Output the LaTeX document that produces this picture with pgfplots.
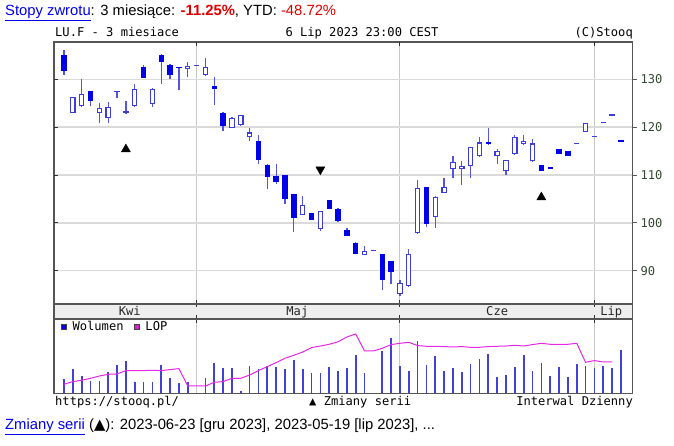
\documentclass[border=0pt]{standalone}
\usepackage{pgfplots}
\usepackage{pgfplotstable}
\pgfplotsset{compat=1.18}
\usepackage{fontspec}
\setmainfont{Liberation Sans}
\newfontfamily\monof{DejaVu Sans Mono}
\newfontfamily\djv{DejaVu Sans}
\definecolor{linkblue}{RGB}{0,0,238}
\definecolor{redtxt}{RGB}{222,0,0}
\definecolor{framec}{RGB}{85,85,85}
\definecolor{gridc}{RGB}{218,218,218}
\definecolor{vgridc}{RGB}{200,200,200}
\definecolor{bandc}{RGB}{238,238,238}
\definecolor{wickc}{RGB}{85,85,225}
\definecolor{hollowc}{RGB}{60,60,220}
\definecolor{fillc}{RGB}{0,0,235}
\definecolor{volc}{RGB}{65,65,215}
\definecolor{lopc}{RGB}{230,40,230}
\definecolor{tickc}{RGB}{50,72,50}
\newcommand{\mf}{\monof\fontsize{12.1}{14}\selectfont}
\newcommand{\txf}{\fontsize{14.8}{17}\selectfont}

\pgfplotstableread{
x o h l c f
0 135.1 136.1 131.0 131.7 1
1 123.0 126.4 122.9 126.3 0
2 124.4 130.1 124.3 126.9 0
3 127.5 127.6 124.4 125.4 1
4 122.9 125.1 120.9 124.0 0
5 121.9 125.2 120.9 124.3 0
6 127.3 127.6 126.0 127.5 0
7 122.9 125.4 122.8 123.4 0
8 124.4 129.0 124.3 127.9 0
9 132.6 132.9 130.2 130.3 1
10 124.8 128.1 124.2 128.0 0
11 135.1 135.2 129.0 133.6 1
12 133.0 133.1 130.1 130.8 1
13 132.6 132.6 127.8 132.3 1
14 132.1 133.6 130.4 132.8 0
15 132.7 132.95 132.7 132.95 0
16 130.8 134.4 130.7 132.6 0
17 128.5 130.5 124.7 127.9 1
18 123.0 123.1 119.1 120.3 1
19 119.9 122.1 119.8 122.0 0
20 120.4 122.6 120.3 122.5 0
21 118.0 119.8 117.1 118.9 0
22 117.1 118.3 112.4 113.1 1
23 112.2 112.3 107.0 109.5 1
24 109.8 112.4 108.1 108.6 1
25 110.0 110.1 103.9 105.0 1
26 106.0 106.1 98.0 101.0 1
27 101.7 105.6 101.6 103.8 0
28 102.0 102.1 100.5 100.6 1
29 98.7 102.5 98.4 102.4 0
30 104.7 104.8 102.9 103.0 1
31 103.0 103.1 100.1 100.4 1
32 98.5 99.0 97.2 97.3 1
33 95.9 96.0 93.5 93.6 1
34 93.3 95.2 93.2 94.2 0
35 94.1 94.35 94.1 94.35 0
36 93.4 93.5 86.0 88.1 1
37 92.0 92.1 87.3 89.8 1
38 85.1 88.1 84.8 87.4 0
39 86.8 94.5 86.7 93.6 0
40 97.8 109.0 97.7 107.3 0
41 107.5 107.6 99.2 99.85 1
42 101.25 105.6 99.0 105.5 0
43 106.3 109.4 106.2 107.5 0
44 111.3 114.0 109.4 112.7 0
45 111.3 112.9 108.0 111.9 0
46 111.8 115.9 109.4 115.8 0
47 113.9 118.0 113.8 116.8 0
48 116.9 119.8 116.3 116.4 1
49 113.9 115.4 112.4 115.0 0
50 110.9 113.2 110.0 113.1 0
51 114.3 118.4 114.2 117.9 0
52 116.4 118.3 116.3 117.1 0
53 112.9 117.5 112.8 116.6 0
54 112.0 112.0 110.9 110.9 1
55 111.65 111.65 111.35 111.35 1
56 115.4 115.4 114.3 114.3 1
57 115.0 115.0 114.05 114.05 1
58 116.4 116.65 116.4 116.65 0
59 119.0 120.9 119.0 120.9 0
60 117.9 118.15 117.9 118.15 0
61 120.8 121.05 120.8 121.05 0
62 122.4 122.65 122.4 122.65 0
63 117.4 117.4 116.85 116.85 1
}\candles

\pgfplotstableread{
x v
0 14
1 24
2 17.3
3 12.3
4 12.3
5 21.7
6 28.3
7 32
8 11
9 11
10 11
11 28.3
12 15.3
13 10
14 11
16 15.3
17 30.7
18 25.3
19 25.3
20 2.7
21 27.3
22 24
23 27.3
24 26.7
25 24
26 33
27 24
28 20
29 20
30 26.7
31 22.3
32 25.3
33 38.3
34 20
36 42.7
37 55
38 27.3
39 22.7
40 52.7
41 28.3
42 37.3
43 22
44 25
45 21
46 29.7
47 34
48 39.3
49 16.3
50 18.3
51 26.3
52 38.3
53 22
54 30.7
55 17.3
56 26.3
57 16.3
58 29.7
59 27.3
60 25
61 27.3
62 25
63 43
}\vol

\pgfplotstableread{
x p
0 9
1 11.7
2 13
3 15
4 17.3
5 19
6 19.3
7 22.7
8 22.7
9 22.7
10 23
11 22.7
12 23.7
13 24.7
14 7.3
15 7.3
16 7.3
17 11
18 11.7
19 15
20 15
21 18.3
22 22.7
23 26.7
24 30.7
25 35
26 38
27 41.3
28 45.7
29 47.3
30 49
31 51.5
32 56.3
33 59.3
34 42.3
35 42.3
36 45
37 48.7
38 50
39 51
40 47.7
41 47
42 47
43 46.7
44 46.3
45 46.7
46 46
47 46
48 46.7
49 47
50 47.3
51 48
52 47.3
53 48.7
54 50
55 49
56 49
57 49
58 50
59 31
60 32.7
61 31.3
62 31.3
}\lop

\begin{document}
\begin{tikzpicture}
\path[use as bounding box] (0pt,0pt) rectangle (674pt,446pt);

% top line
\node[anchor=base west, inner sep=0pt, font=\txf] at (5pt,430.5pt)
  {\textcolor{linkblue}{\underline{Stopy zwrotu}}: 3 miesiące: \textcolor{redtxt}{\bfseries -11.25\%}, YTD: \textcolor{redtxt}{-48.72\%}};

% header
\node[anchor=base west, inner sep=0pt, font=\mf] at (55pt,409pt) {LU.F - 3 miesiace};
\node[anchor=base, inner sep=0pt, font=\mf] at (362pt,409pt) {6 Lip 2023 23:00 CEST};
\node[anchor=base east, inner sep=0pt, font=\mf] at (633pt,409pt) {(C)Stooq};

% main price axis
\begin{axis}[
  at={(54pt,142pt)}, anchor=south west, scale only axis,
  width=578.5pt, height=262pt,
  xmin=-1.131, xmax=64.31, ymin=83.05, ymax=137.8,
  axis line style={draw=framec, line width=1.4pt},
  ytick={90,100,110,120,130},
  ytick pos=right, yticklabel pos=right,
  tick align=outside, major tick length=4.5pt,
  ytick style={draw=framec, line width=1pt},
  yticklabel style={font=\mf, text=tickc},
  /pgf/number format/assume math mode=true,
  xtick={15,38,60}, xticklabels={},
  xtick style={draw=none},
  xmajorgrids, ymajorgrids,
  x grid style={draw=vgridc, line width=1pt},
  y grid style={draw=gridc, line width=1.5pt},
]
% wicks
\addplot[draw=none, mark=none, error bars/.cd, y dir=minus, y explicit, error mark=none,
  error bar style={draw=wickc, line width=1.3pt}]
  table[x=x, y=h, y error minus expr={\thisrow{h}-\thisrow{l}}] \candles;
% filled bodies
\addplot[draw=none, mark=none, restrict y to domain=0:1000, error bars/.cd, y dir=minus, y explicit, error mark=none,
  error bar style={draw=fillc, line width=5.4pt}]
  table[x=x, y expr={\thisrow{f}==1 ? \thisrow{o} : -1000}, y error minus expr={\thisrow{o}-\thisrow{c}}] \candles;
% hollow bodies outer
\addplot[draw=none, mark=none, restrict y to domain=0:1000, error bars/.cd, y dir=minus, y explicit, error mark=none,
  error bar style={draw=hollowc, line width=5.4pt}]
  table[x=x, y expr={\thisrow{f}==0 ? \thisrow{c} : -1000}, y error minus expr={\thisrow{c}-\thisrow{o}}] \candles;
% hollow bodies inner
\addplot[draw=none, mark=none, restrict y to domain=0:1000, error bars/.cd, y dir=minus, y explicit, error mark=none,
  error bar style={draw=white, line width=3.2pt}]
  table[x=x, y expr={(\thisrow{f}==0 && \thisrow{c}-\thisrow{o}>0.5) ? \thisrow{c}-0.23 : -1000}, y error minus expr={\thisrow{c}-\thisrow{o}-0.46}] \candles;
% series change markers
\addplot[only marks, mark=triangle*, mark size=5.2pt, mark options={fill=black, draw=none}]
  coordinates {(7,115.39) (54,105.36)};
\addplot[only marks, mark=triangle*, mark size=5.2pt, mark options={fill=black, draw=none, rotate=180}]
  coordinates {(29,111.15)};
\end{axis}

% inside ticks overlay
\begin{axis}[
  at={(54pt,142pt)}, anchor=south west, scale only axis,
  width=578.5pt, height=262pt,
  xmin=-1.131, xmax=64.31, ymin=83.05, ymax=137.8,
  axis line style={draw=none},
  ytick={90,100,110,120,130}, yticklabels={}, ytick pos=left,
  xtick={15,38,60}, xticklabels={}, xtick pos=both,
  tick align=inside, major tick length=4pt,
  tick style={draw=black!80, line width=1pt},
]
\end{axis}

% month band
\begin{axis}[
  at={(54pt,127pt)}, anchor=south west, scale only axis,
  width=578.5pt, height=15pt,
  xmin=-1.131, xmax=64.31, ymin=0, ymax=1,
  axis background/.style={fill=bandc},
  axis line style={draw=framec, line width=1.4pt},
  ytick=\empty,
  xtick={15,38,60}, xticklabels={}, xtick pos=both,
  tick align=inside, major tick length=3.5pt,
  tick style={draw=black!80, line width=1pt},
]
\node[anchor=base, font=\mf, text=black!85, inner sep=0pt] at (axis cs:7.45,0.22) {Kwi};
\node[anchor=base, font=\mf, text=black!85, inner sep=0pt] at (axis cs:26.4,0.22) {Maj};
\node[anchor=base, font=\mf, text=black!85, inner sep=0pt] at (axis cs:49,0.22) {Cze};
\node[anchor=base, font=\mf, text=black!85, inner sep=0pt] at (axis cs:61.9,0.22) {Lip};
\end{axis}

% volume panel
\begin{axis}[
  at={(54pt,52.7pt)}, anchor=south west, scale only axis,
  width=578.5pt, height=74.3pt,
  xmin=-1.131, xmax=64.31, ymin=0, ymax=74.3,
  axis line style={draw=framec, line width=1.4pt},
  ytick=\empty,
  xtick={15,38,60}, xticklabels={}, xtick pos=top,
  tick align=inside, major tick length=4pt,
  tick style={draw=black!80, line width=1pt},
  xmajorgrids, x grid style={draw=vgridc, line width=1pt},
  legend columns=-1,
  legend style={at={(axis description cs:0,1)}, anchor=west, xshift=6.5pt, yshift=-8pt,
    draw=none, fill=none, inner sep=0pt, font=\mf,
    nodes={inner sep=0pt},
    /tikz/every odd column/.style={column sep=6pt},
    /tikz/every even column/.style={column sep=10pt}},
]
\addplot[ycomb, draw=volc, line width=1.7pt, mark=none, forget plot] table[x=x, y=v] \vol;
\addplot[draw=lopc, line width=1pt, mark=none, forget plot] table[x=x, y=p] \lop;
\addlegendimage{legend image code/.code={\filldraw[draw=black!75, fill=fillc, line width=0.6pt] (0pt,-2.7pt) rectangle (5.3pt,2.7pt);}}
\addlegendentry{Wolumen}
\addlegendimage{legend image code/.code={\filldraw[draw=black!75, fill=lopc!90!black, line width=0.6pt] (0pt,-2.7pt) rectangle (5.3pt,2.7pt);}}
\addlegendentry{LOP}
\end{axis}

% bottom labels
\node[anchor=base west, inner sep=0pt, font=\mf] at (55pt,40pt) {https://stooq.pl/};
\node[anchor=base west, inner sep=0pt, font=\mf] at (309pt,40pt) {▲ Zmiany serii};
\node[anchor=base east, inner sep=0pt, font=\mf] at (633pt,40pt) {Interwal Dzienny};
\node[anchor=base west, inner sep=0pt, font=\txf] at (5pt,16pt)
  {\textcolor{linkblue}{\underline{Zmiany serii}} ({\djv ▲}): 2023-06-23 [gru 2023], 2023-05-19 [lip 2023], ...};
\end{tikzpicture}
\end{document}
